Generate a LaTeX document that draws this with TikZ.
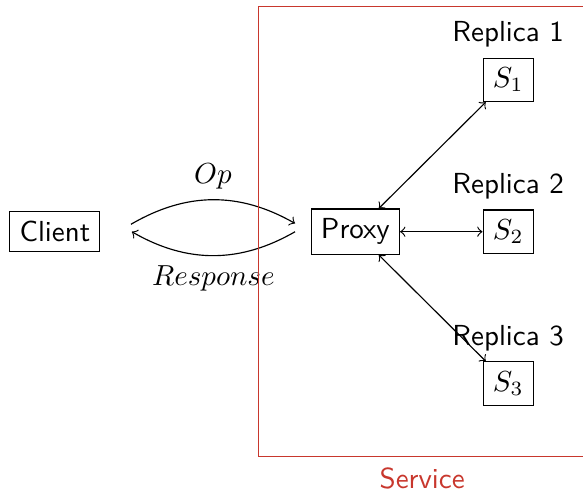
\documentclass[tikz,border=0pt]{standalone}
\usepackage{amsmath, amssymb}
\usepackage{tikz}
\usetikzlibrary{arrows.meta, positioning, calc}

\definecolor{servicered}{RGB}{200,55,45}

\begin{document}
\begin{tikzpicture}[
    >=to,
    boxnode/.style={draw, rectangle, font=\sffamily},
    replica/.style={draw, rectangle, label={[font=\sffamily]above:#1}},
    msg/.style={->, bend left=30},
    link/.style={<->},
    servicebox/.style={draw=servicered, rectangle, minimum width=3.98cm, minimum height=5.46cm,
      label={[font=\sffamily, text=servicered]below:Service}}
]
    \useasboundingbox (-4.31,-3.17) rectangle (2.76,2.81);

    \node[boxnode] (Proxy) at (0, 0) {Proxy};
    \node[boxnode] (Client) [left=2.55cm of Proxy] {Client};

    \node[replica=Replica 2] (S_2) [right=1cm of Proxy] {$S_2$};
    \node[replica=Replica 1] (S_1) [above=1.3cm of S_2] {$S_1$};
    \node[replica=Replica 3] (S_3) [below=1.3cm of S_2] {$S_3$};

    % request / reply between client and proxy
    \coordinate (op_out) at ($(Client.east) + (0.37, 0.09)$);
    \coordinate (op_in) at ($(Proxy.west) + (-0.19, 0.1)$);
    \coordinate (resp_out) at ($(Proxy.west) + (-0.19, 0)$);
    \coordinate (resp_in) at ($(Client.east) + (0.38, 0)$);

    \draw[msg] (op_out) to node[above] {$Op$} (op_in);
    \draw[msg] (resp_out) to node[below] {$Response$} (resp_in);

    \draw[link] (Proxy) -- (S_1);
    \draw[link] (Proxy) -- (S_2);
    \draw[link] (Proxy) -- (S_3);

    \node[servicebox] (Service) at (0.81, 0) {};
\end{tikzpicture}
\end{document}
